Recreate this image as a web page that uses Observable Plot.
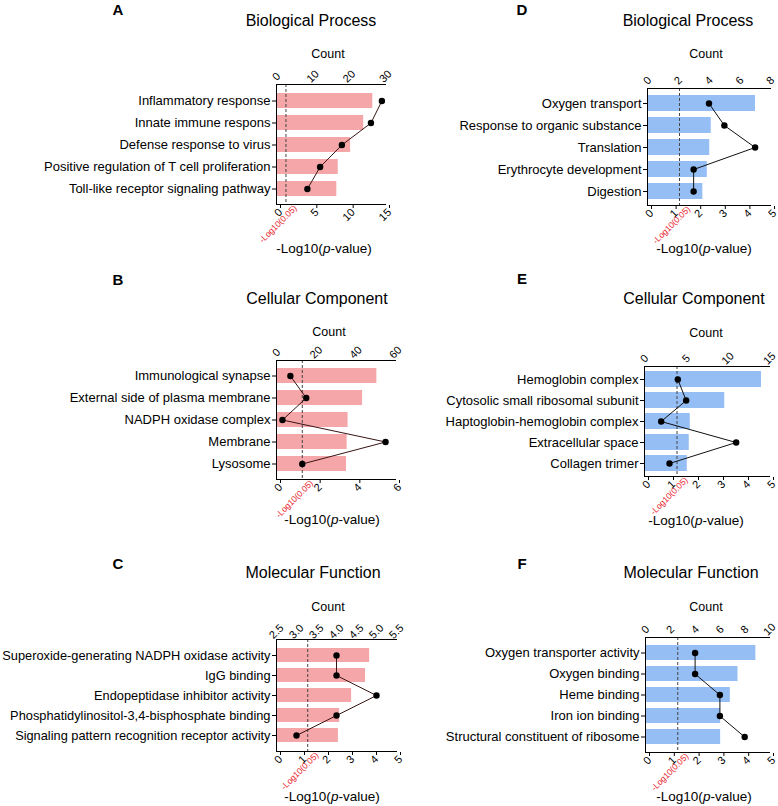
<!DOCTYPE html>
<html><head><meta charset="utf-8">
<script src="https://cdn.jsdelivr.net/npm/d3@7"></script>
<script src="https://cdn.jsdelivr.net/npm/@observablehq/plot@0.6"></script>
<style>
body{margin:0;background:#fff;font-family:"Liberation Sans",Arial,Helvetica,sans-serif;}
#root{position:relative;width:778px;height:806px;overflow:hidden;background:#fff;}
.abs{position:absolute;white-space:nowrap;transform:translate(-50%,-50%);line-height:1;color:#000;}
.letter{font-weight:bold;font-size:15px;}
.title{font-size:16px;}
.count{font-size:12.5px;}
.xt{font-size:13.5px;}
.plot{position:absolute;}
</style></head><body><div id="root"></div>
<script>
// ---- Data ----
const catsA = ["Inflammatory response","Innate immune respons","Defense response to virus","Positive regulation of T cell proliferation","Toll-like receptor signaling pathway"];
const logpA = [13.25, 12.0, 10.2, 8.5, 8.3];
const countA = [29, 26, 18, 12, 8.5];
const pTicksA = [0, 5, 10, 15];
const cTicksA = [0, 10, 20, 30];

const catsB = ["Immunological synapse","External side of plasma membrane","NADPH oxidase complex","Membrane","Lysosome"];
const logpB = [5.06, 4.34, 3.61, 3.56, 3.53];
const countB = [7, 15, 3, 55, 13];
const pTicksB = [0, 2, 4, 6];
const cTicksB = [0, 20, 40, 60];

const catsC = ["Superoxide-generating NADPH oxidase activity","IgG binding","Endopeptidase inhibitor activity","Phosphatidylinositol-3,4-bisphosphate binding","Signaling pattern recognition receptor activity"];
const logpC = [3.88, 3.71, 3.13, 2.63, 2.58];
const countC = [4, 4, 5, 4, 3];
const pTicksC = [0, 1, 2, 3, 4, 5];
const cTicksC = [2.5, 3.0, 3.5, 4.0, 4.5, 5.0, 5.5];

const catsD = ["Oxygen transport","Response to organic substance","Translation","Erythrocyte development","Digestion"];
const logpD = [4.39, 2.59, 2.53, 2.43, 2.25];
const countD = [4, 5, 7, 3, 3];
const pTicksD = [0, 1, 2, 3, 4, 5];
const cTicksD = [0, 2, 4, 6, 8];

const catsE = ["Hemoglobin complex","Cytosolic small ribosomal subunit","Haptoglobin-hemoglobin complex","Extracellular space","Collagen trimer"];
const logpE = [4.68, 3.21, 1.83, 1.79, 1.71];
const countE = [4, 5, 2, 11, 3];
const pTicksE = [0, 1, 2, 3, 4, 5];
const cTicksE = [0, 5, 10, 15];

const catsF = ["Oxygen transporter activity","Oxygen binding","Heme binding","Iron ion binding","Structural constituent of ribosome"];
const logpF = [4.45, 3.73, 3.42, 3.03, 3.03];
const countF = [4, 4, 6, 6, 8];
const pTicksF = [0, 1, 2, 3, 4, 5];
const cTicksF = [0, 2, 4, 6, 8, 10];

const letters = ["A","B","C","D","E","F"];
const titles = ["Biological Process","Cellular Component","Molecular Function","Biological Process","Cellular Component","Molecular Function"];
const threshold = -Math.log10(0.05);

const PINK = "#f5a6a9", BLUE = "#94bef4";
const FONT = '"Liberation Sans", Arial, Helvetica, sans-serif';

// ---- Layout (pixel geometry only) ----
const panels = [
  {cats:catsA, logp:logpA, count:countA, pTicks:pTicksA, cTicks:cTicksA, cMin:0, cMax:30, xMax:15, color:PINK, line:"#3a1414", yFont:13,
   left:276, right:385, top:84, bottom:204, pi:0.33, po:0.33, letter:[118,9], title:[311,21], countPos:[328,54], xt:[324,249], fmt:d=>String(d)},
  {cats:catsB, logp:logpB, count:countB, pTicks:pTicksB, cTicks:cTicksB, cMin:0, cMax:60, xMax:6, color:PINK, line:"#3a1414", yFont:13,
   left:276, right:395, top:360, bottom:479, pi:0.32, po:0.35, letter:[118,279], title:[317,299], countPos:[329,332], xt:[332,520], fmt:d=>String(d)},
  {cats:catsC, logp:logpC, count:countC, pTicks:pTicksC, cTicks:cTicksC, cMin:2.5, cMax:5.5, xMax:5, color:PINK, line:"#3a1414", yFont:12.8,
   left:276, right:396, top:639, bottom:751, pi:0.30, po:0.40, letter:[118,563], title:[313,573], countPos:[328,607], xt:[332,797], fmt:d=>d.toFixed(1)},
  {cats:catsD, logp:logpD, count:countD, pTicks:pTicksD, cTicks:cTicksD, cMin:0, cMax:8, xMax:5, color:BLUE, line:"#111", yFont:13,
   left:647, right:770, top:88, bottom:205, pi:0.29, po:0.25, letter:[522,9], title:[688,21], countPos:[706,54], xt:[704,249], fmt:d=>String(d)},
  {cats:catsE, logp:logpE, count:countE, pTicks:pTicksE, cTicks:cTicksE, cMin:0, cMax:15, xMax:5, color:BLUE, line:"#111", yFont:13,
   left:644, right:769, top:366, bottom:476, pi:0.26, po:0.22, letter:[522,278], title:[694,299], countPos:[706,333], xt:[696,521], fmt:d=>String(d)},
  {cats:catsF, logp:logpF, count:countF, pTicks:pTicksF, cTicks:cTicksF, cMin:0, cMax:10, xMax:5, color:BLUE, line:"#111", yFont:13,
   left:645, right:769, top:637, bottom:752, pi:0.28, po:0.28, letter:[522,563], title:[691,573], countPos:[706,607], xt:[704,797], fmt:d=>String(d)}
];

const root = document.getElementById("root");
function addText(cls, html, pos) {
  const d = document.createElement("div");
  d.className = "abs " + cls;
  d.innerHTML = html;
  d.style.left = pos[0] + "px";
  d.style.top = pos[1] + "px";
  root.appendChild(d);
}

panels.forEach((cfg, k) => {
  const toX = c => (c - cfg.cMin) / (cfg.cMax - cfg.cMin) * cfg.xMax;
  const rows = cfg.cats.map((c, i) => ({cat: c, p: cfg.logp[i], cx: toX(cfg.count[i])}));
  const topX = cfg.cTicks.map(toX);
  const topLabel = new Map(cfg.cTicks.map(c => [toX(c), cfg.fmt(c)]));
  const svgLeft = cfg.left < 389 ? 0 : 389;
  const mt = 34, mb = 46, mr = 8;
  const width = cfg.right - svgLeft + mr;
  const height = cfg.bottom - cfg.top + mt + mb;
  const chart = Plot.plot({
    width, height,
    marginLeft: cfg.left - svgLeft, marginRight: mr, marginTop: mt, marginBottom: mb,
    style: {fontFamily: FONT, fontSize: "13px", color: "#000", background: "transparent", overflow: "visible"},
    x: {domain: [0, cfg.xMax], axis: null},
    y: {domain: cfg.cats, paddingInner: cfg.pi, paddingOuter: cfg.po, axis: null},
    marks: [
      Plot.barX(rows, {y: "cat", x: "p", fill: cfg.color}),
      Plot.ruleX([threshold], {stroke: "#444", strokeDasharray: "3,2", strokeWidth: 1}),
      Plot.line(rows, {x: "cx", y: "cat", stroke: cfg.line, strokeWidth: 1}),
      Plot.dot(rows, {x: "cx", y: "cat", fill: "#000", r: 3.2}),
      Plot.frame({anchor: "top", stroke: "#000"}),
      Plot.frame({anchor: "bottom", stroke: "#000"}),
      Plot.ruleX([0], {stroke: "#000"}),
      Plot.axisY({tickSize: 4, tickPadding: 2, fontSize: cfg.yFont, label: null}),
      Plot.axisX(cfg.pTicks, {anchor: "bottom", tickSize: 3, tickPadding: 2, tickRotate: -45, fontSize: 11, dx: 4, dy: 1, label: null}),
      Plot.axisX(topX, {anchor: "top", tickSize: 0, tickPadding: 8, tickRotate: -45, textAnchor: "middle", lineAnchor: "middle", fontSize: 11, label: null, tickFormat: d => topLabel.get(d)}),
      Plot.text([threshold], {x: d => d, frameAnchor: "bottom", text: () => "-Log10(0.05)", rotate: -45, textAnchor: "end", lineAnchor: "top", fill: "#e8202a", fontSize: 8.5, dx: 7, dy: 0})
    ]
  });
  chart.classList.add("plot");
  chart.style.left = svgLeft + "px";
  chart.style.top = (cfg.top - mt) + "px";
  root.appendChild(chart);

  addText("letter", letters[k], cfg.letter);
  addText("title", titles[k], cfg.title);
  addText("count", "Count", cfg.countPos);
  addText("xt", "-Log10(<i>p</i>-value)", cfg.xt);
});
</script></body></html>
